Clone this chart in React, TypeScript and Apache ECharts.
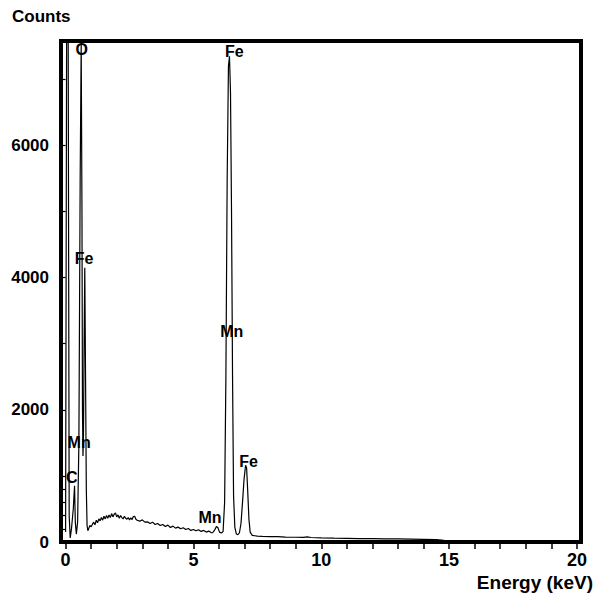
import React, { useEffect, useRef } from "react";
import * as echarts from "echarts";

// Spectrum: energy (keV) and counts
const energy: number[] = [
  0.0, 0.04, 0.1, 0.14, 0.18, 0.23, 0.3, 0.35, 0.38, 0.42, 0.47, 0.52, 0.57, 0.61, 0.64, 0.66, 0.68, 0.7, 0.72, 0.75, 0.78, 0.81, 0.84, 0.87,
  0.9, 0.95, 1.0, 1.05, 1.1, 1.15, 1.2, 1.25, 1.3, 1.35, 1.4, 1.45, 1.5, 1.55, 1.6, 1.65, 1.7, 1.75, 1.8, 1.85, 1.9, 1.95,
  2.0, 2.05, 2.1, 2.15, 2.2, 2.25, 2.3, 2.35, 2.4, 2.45, 2.5, 2.55, 2.6, 2.65, 2.7, 2.75, 2.8, 2.9, 3.0, 3.1, 3.2, 3.3, 3.4,
  3.5, 3.6, 3.7, 3.8, 3.9, 4.0, 4.1, 4.2, 4.3, 4.4, 4.5, 4.6, 4.7, 4.8, 4.9, 5.0, 5.1, 5.2, 5.3, 5.4, 5.5, 5.6, 5.7, 5.75,
  5.82, 5.9, 5.96, 6.02, 6.1, 6.16, 6.22, 6.27, 6.32, 6.37, 6.41, 6.45, 6.49, 6.53, 6.57, 6.62, 6.68, 6.74, 6.8, 6.86, 6.92,
  6.98, 7.04, 7.08, 7.12, 7.17, 7.22, 7.3, 7.4, 7.5, 7.7, 8.0, 8.3, 8.6, 9.0, 9.3, 9.45, 9.6, 10.0, 10.5, 11.0, 11.5, 12.0,
  12.5, 13.0, 13.5, 14.0, 14.5, 14.8, 16.0, 20.1,
];
const counts: number[] = [
  150, 7800, 7800, 400, 60, 200, 500, 850, 300, 120, 300, 1500, 5500, 7550, 5000, 2000, 1300, 1650, 2800, 4150, 2500, 800, 250, 170,
  200, 250, 230, 270, 300, 260, 330, 290, 350, 320, 370, 330, 390, 350, 400, 360, 410, 370, 430, 380, 420, 440,
  380, 410, 360, 400, 370, 350, 390, 360, 345, 370, 335, 365, 340, 385, 390, 345, 330, 315, 335, 300, 305, 280, 300,
  265, 280, 250, 265, 235, 255, 220, 240, 210, 225, 200, 215, 190, 205, 175, 190, 170, 185, 160, 175, 150, 165, 140, 140,
  175, 235, 215, 150, 135, 160, 600, 2500, 5500, 7200, 7350, 6800, 5000, 2500, 700, 220, 120, 110, 140, 280, 600,
  950, 1160, 1120, 800, 350, 150, 100, 95, 90, 85, 82, 80, 75, 72, 70, 78, 68, 62, 58, 55, 52, 50,
  48, 46, 44, 40, 36, 25, 10, 5,
];

// Peak annotations
const peakNames: string[] = ["O", "Fe", "Mn", "C", "Fe", "Mn", "Fe", "Mn"];
const peakX: number[] = [0.63, 0.72, 0.53, 0.24, 6.6, 6.5, 7.16, 5.65];
const peakY: number[] = [7450, 4290, 1500, 980, 7420, 3190, 1220, 370];

const xLabelValues: number[] = [0, 5, 10, 15, 20];
const xTickValues: number[] = [0, 1, 2, 3, 4, 5, 6, 7, 8, 9, 10, 11, 12, 13, 14, 15, 16, 17, 18, 19, 20];
const yLabelValues: number[] = [0, 2000, 4000, 6000];
const yTickValues: number[] = [0, 200, 400, 600, 800, 1000, 2000, 3000, 4000, 5000, 6000, 7000];

const FONT = "'Liberation Sans', Arial, sans-serif";

export default function App() {
  const ref = useRef<HTMLDivElement>(null);
  useEffect(() => {
    if (!ref.current) return;
    const chart = echarts.init(ref.current, null, { renderer: "svg" });
    const lineData = energy.map((e, i) => [e, counts[i]]);
    const labelData = peakNames.map((n, i) => ({ name: n, value: [peakX[i], peakY[i]] }));
    chart.setOption({
      animation: false,
      backgroundColor: "#fff",
      textStyle: { fontFamily: FONT },
      title: [
        {
          text: "Counts",
          left: 12,
          top: 8,
          padding: 0,
          textStyle: { fontFamily: FONT, fontWeight: "bold", fontSize: 17, color: "#000" },
        },
        {
          text: "Energy (keV)",
          right: 4,
          bottom: 7,
          padding: 0,
          textStyle: { fontFamily: FONT, fontWeight: "bold", fontSize: 19, color: "#000" },
        },
      ],
      grid: {
        left: 61,
        top: 41,
        right: 16,
        bottom: 57,
        show: true,
        borderColor: "#000",
        borderWidth: 4,
        backgroundColor: "transparent",
      },
      xAxis: {
        type: "value",
        min: -0.18,
        max: 20.16,
        splitLine: { show: false },
        axisLine: { show: false },
        axisTick: {
          show: true,
          inside: false,
          length: 7,
          lineStyle: { color: "#000", width: 1.5 },
          customValues: xTickValues,
        },
        axisLabel: {
          customValues: xLabelValues,
          margin: 9,
          color: "#000",
          fontWeight: "bold",
          fontSize: 18,
          fontFamily: FONT,
          formatter: (v: number) => String(v),
        },
      },
      yAxis: {
        type: "value",
        min: 0,
        max: 7580,
        interval: 1000,
        splitLine: { show: false },
        axisLine: { show: false },
        axisTick: {
          show: true,
          inside: false,
          length: 6,
          lineStyle: { color: "#000", width: 1.2 },
          customValues: yTickValues,
        },
        axisLabel: {
          customValues: yLabelValues,
          margin: 12,
          color: "#000",
          fontWeight: "bold",
          fontSize: 17,
          fontFamily: FONT,
          formatter: (v: number) => String(v),
        },
      },
      series: [
        {
          type: "line",
          data: lineData,
          showSymbol: false,
          clip: true,
          lineStyle: { color: "#000", width: 1.2 },
          z: 3,
        },
        {
          type: "scatter",
          data: labelData,
          symbolSize: 0,
          clip: false,
          z: 5,
          itemStyle: { color: "#000", opacity: 1 },
          label: {
            show: true,
            position: "inside",
            formatter: "{b}",
            color: "#000",
            opacity: 1,
            textBorderWidth: 0,
            textBorderColor: "transparent",
            fontWeight: "bold",
            fontSize: 16,
            fontFamily: FONT,
          },
        },
      ],
    });
    return () => chart.dispose();
  }, []);
  return (
    <div
      ref={ref}
      style={{ position: "fixed", left: 0, top: 0, width: 597, height: 599 }}
    />
  );
}
